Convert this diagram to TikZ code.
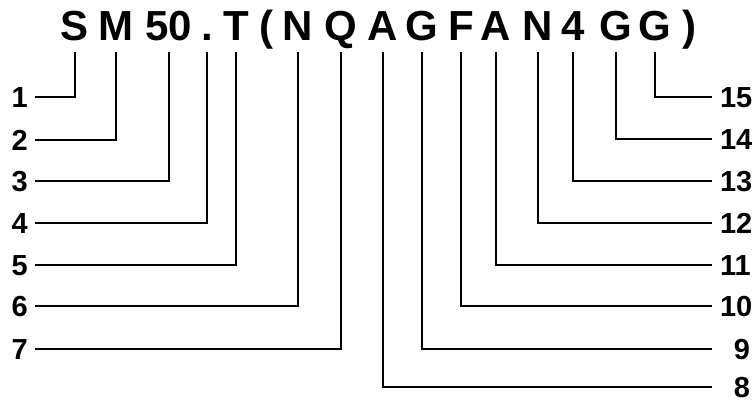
\documentclass[tikz,border=0pt]{standalone}
\usepackage{fontspec}
\setmainfont{Liberation Sans}
\usepackage{tikz}

\begin{document}
\begin{tikzpicture}[x=1pt,y=-1pt,
  glyph/.style={font=\bfseries\fontsize{42}{42}\selectfont,inner sep=0pt,
                outer ysep=12pt,text height=30pt,text depth=0pt,anchor=south},
  numL/.style={font=\bfseries\fontsize{29}{29}\selectfont,inner ysep=0pt,
               inner xsep=7pt,text height=20.8pt,text depth=0pt,anchor=east},
  numR/.style={numL,inner xsep=0pt,outer xsep=8pt,text width=30pt,
               align=right,anchor=west},
  lead/.style={line width=2.4pt}
]
\fill[white] (0,0) rectangle (753,402);
\useasboundingbox (0,0) rectangle (753,402);

% sequence
\node[glyph] (t1)  at ( 75,52) {S};
\node[glyph] (t2)  at (116,52) {M};
\node[glyph] (t3)  at (169,52) {50};
\node[glyph] (t4)  at (207,52) {.};
\node[glyph] (t5)  at (236,52) {T};
\node[glyph] (lp)  at (266,52) {(};
\node[glyph] (t6)  at (298,52) {N};
\node[glyph] (t7)  at (341,52) {Q};
\node[glyph] (t8)  at (383,52) {A};
\node[glyph] (t9)  at (422,52) {G};
\node[glyph] (t10) at (461,52) {F};
\node[glyph] (t11) at (496,52) {A};
\node[glyph] (t12) at (538,52) {N};
\node[glyph] (t13) at (573,52) {4};
\node[glyph] (t14) at (616,52) {G};
\node[glyph] (t15) at (655,52) {G};
\node[glyph] (rp)  at (689,52) {)};

% numbers
\node[numL] (n1)  at (35, 97) {1};
\node[numL] (n2)  at (35,140) {2};
\node[numL] (n3)  at (35,181) {3};
\node[numL] (n4)  at (35,223) {4};
\node[numL] (n5)  at (35,265) {5};
\node[numL] (n6)  at (35,306) {6};
\node[numL] (n7)  at (35,349) {7};

\node[numR] (n8)  at (712,387) {8};
\node[numR] (n9)  at (712,349) {9};
\node[numR] (n10) at (712,306) {10};
\node[numR] (n11) at (712,265) {11};
\node[numR] (n12) at (712,223) {12};
\node[numR] (n13) at (712,181) {13};
\node[numR] (n14) at (712,139) {14};
\node[numR] (n15) at (712, 97) {15};

% leads
\draw[lead] (t1.south)  |- (n1.east);
\draw[lead] (t2.south)  |- (n2.east);
\draw[lead] (t3.south)  |- (n3.east);
\draw[lead] (t4.south)  |- (n4.east);
\draw[lead] (t5.south)  |- (n5.east);
\draw[lead] (t6.south)  |- (n6.east);
\draw[lead] (t7.south)  |- (n7.east);
\draw[lead] (t8.south)  |- (n8.west);
\draw[lead] (t9.south)  |- (n9.west);
\draw[lead] (t10.south) |- (n10.west);
\draw[lead] (t11.south) |- (n11.west);
\draw[lead] (t12.south) |- (n12.west);
\draw[lead] (t13.south) |- (n13.west);
\draw[lead] (t14.south) |- (n14.west);
\draw[lead] (t15.south) |- (n15.west);
\end{tikzpicture}
\end{document}
